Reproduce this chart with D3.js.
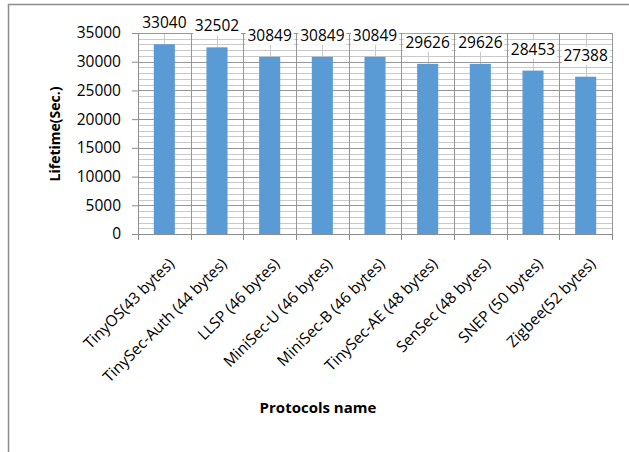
<!DOCTYPE html>
<html>
<head>
<meta charset="utf-8">
<script src="https://cdn.jsdelivr.net/npm/d3@7"></script>
<style>
  body { margin: 0; background: #fff; }
  svg text { font-family: "Open Sans", "Noto Sans", sans-serif; fill: #000; }
</style>
</head>
<body>
<div id="chart"></div>
<script>
// chart data
var protocols = ["TinyOS(43 bytes)", "TinySec-Auth (44 bytes)", "LLSP (46 bytes)",
  "MiniSec-U (46 bytes)", "MiniSec-B (46 bytes)", "TinySec-AE (48 bytes)",
  "SenSec (48 bytes)", "SNEP (50 bytes)", "Zigbee(52 bytes)"];
var lifetimes = [33040, 32502, 30849, 30849, 30849, 29626, 29626, 28453, 27388];
var yTicks = [0, 5000, 10000, 15000, 20000, 25000, 30000, 35000];

var W = 629, H = 452;
var plot = {left: 138, right: 612, top: 33, bottom: 234};

var svg = d3.select("#chart").append("svg")
  .attr("width", W).attr("height", H);

// outer chart border (runs off the picture on right/bottom)
svg.append("rect")
  .attr("x", 8.5).attr("y", 4.5)
  .attr("width", 700).attr("height", 600)
  .attr("fill", "none").attr("stroke", "#8c8c8c").attr("stroke-width", 1.5);

var x = d3.scaleBand().domain(protocols)
  .range([plot.left, plot.right]).paddingInner(0).paddingOuter(0);
var y = d3.scaleLinear().domain([0, 35000]).range([plot.bottom, plot.top]);

var g = svg.append("g");

// minor horizontal grid every 1000
g.selectAll(".hminor").data(d3.range(1000, 35000, 1000).filter(function(v) { return v % 5000; }))
  .enter().append("line")
  .attr("x1", plot.left).attr("x2", plot.right)
  .attr("y1", function(d) { return Math.round(y(d)) + 0.5; })
  .attr("y2", function(d) { return Math.round(y(d)) + 0.5; })
  .attr("stroke", "#c9c9c9");

// minor vertical grid at category centres
g.selectAll(".vminor").data(protocols).enter().append("line")
  .attr("x1", function(d) { return Math.round(x(d) + x.bandwidth() / 2) + 0.5; })
  .attr("x2", function(d) { return Math.round(x(d) + x.bandwidth() / 2) + 0.5; })
  .attr("y1", plot.top).attr("y2", plot.bottom)
  .attr("stroke", "#c9c9c9");

// major horizontal grid
g.selectAll(".hmajor").data(yTicks.slice(1)).enter().append("line")
  .attr("x1", plot.left).attr("x2", plot.right)
  .attr("y1", function(d) { return Math.round(y(d)) + 0.5; })
  .attr("y2", function(d) { return Math.round(y(d)) + 0.5; })
  .attr("stroke", "#969696");

// major vertical grid at category boundaries
g.selectAll(".vmajor").data(protocols.slice(1).concat(["end"])).enter().append("line")
  .attr("x1", function(d, i) { return Math.round(plot.left + x.step() * (i + 1)) + 0.5; })
  .attr("x2", function(d, i) { return Math.round(plot.left + x.step() * (i + 1)) + 0.5; })
  .attr("y1", plot.top).attr("y2", plot.bottom)
  .attr("stroke", "#969696");

// bars
var barW = x.bandwidth() * 0.4;
g.selectAll(".bar").data(lifetimes).enter().append("rect")
  .attr("x", function(d, i) { return x(protocols[i]) + (x.bandwidth() - barW) / 2; })
  .attr("y", function(d) { return y(d); })
  .attr("width", barW)
  .attr("height", function(d) { return plot.bottom - y(d); })
  .attr("fill", "#5b9bd5");

// data labels with white box
var lab = g.selectAll(".lab").data(lifetimes).enter().append("g")
  .attr("transform", function(d, i) {
    return "translate(" + (x(protocols[i]) + x.bandwidth() / 2) + "," + (y(d) - 16) + ")";
  });
lab.append("rect")
  .attr("x", -24).attr("y", -14).attr("width", 48).attr("height", 18)
  .attr("fill", "#fff");
lab.append("text")
  .attr("text-anchor", "middle")
  .style("font-size", "15.5px")
  .text(function(d) { return d; });

// y axis
var yAxis = svg.append("g")
  .attr("transform", "translate(" + plot.left + ",0)")
  .call(d3.axisLeft(y).tickValues(yTicks).tickSize(6).tickPadding(11).tickFormat(d3.format("d")));
yAxis.select(".domain").attr("stroke", "#8c8c8c").attr("d", "M0.5," + plot.top + "V" + (plot.bottom + 6));
yAxis.selectAll(".tick line").attr("stroke", "#8c8c8c");
yAxis.selectAll(".tick text").style("font-size", "15.5px");

// x axis
var xAxis = svg.append("g")
  .attr("transform", "translate(0," + plot.bottom + ")");
xAxis.append("line")
  .attr("x1", plot.left - 6).attr("x2", plot.right)
  .attr("y1", 0.5).attr("y2", 0.5).attr("stroke", "#8c8c8c");
xAxis.selectAll(".xtick").data(d3.range(protocols.length + 1)).enter().append("line")
  .attr("x1", function(i) { return Math.round(plot.left + x.step() * i) + 0.5; })
  .attr("x2", function(i) { return Math.round(plot.left + x.step() * i) + 0.5; })
  .attr("y1", 0).attr("y2", 6).attr("stroke", "#8c8c8c");
xAxis.selectAll(".xlab").data(protocols).enter().append("text")
  .attr("transform", function(d) {
    return "translate(" + (x(d) + x.bandwidth() / 2 + 7) + ",27) rotate(-45)";
  })
  .attr("text-anchor", "end")
  .attr("dy", "0.35em")
  .style("font-size", "15.5px")
  .text(function(d) { return d; });

// axis titles
svg.append("text")
  .attr("transform", "translate(60,134) rotate(-90)")
  .attr("text-anchor", "middle")
  .style("font-size", "14px").style("font-weight", "bold")
  .text("Lifetime(Sec.)");

svg.append("text")
  .attr("x", 318).attr("y", 413)
  .attr("text-anchor", "middle")
  .style("font-size", "15px").style("font-weight", "bold")
  .text("Protocols name");
</script>
</body>
</html>
